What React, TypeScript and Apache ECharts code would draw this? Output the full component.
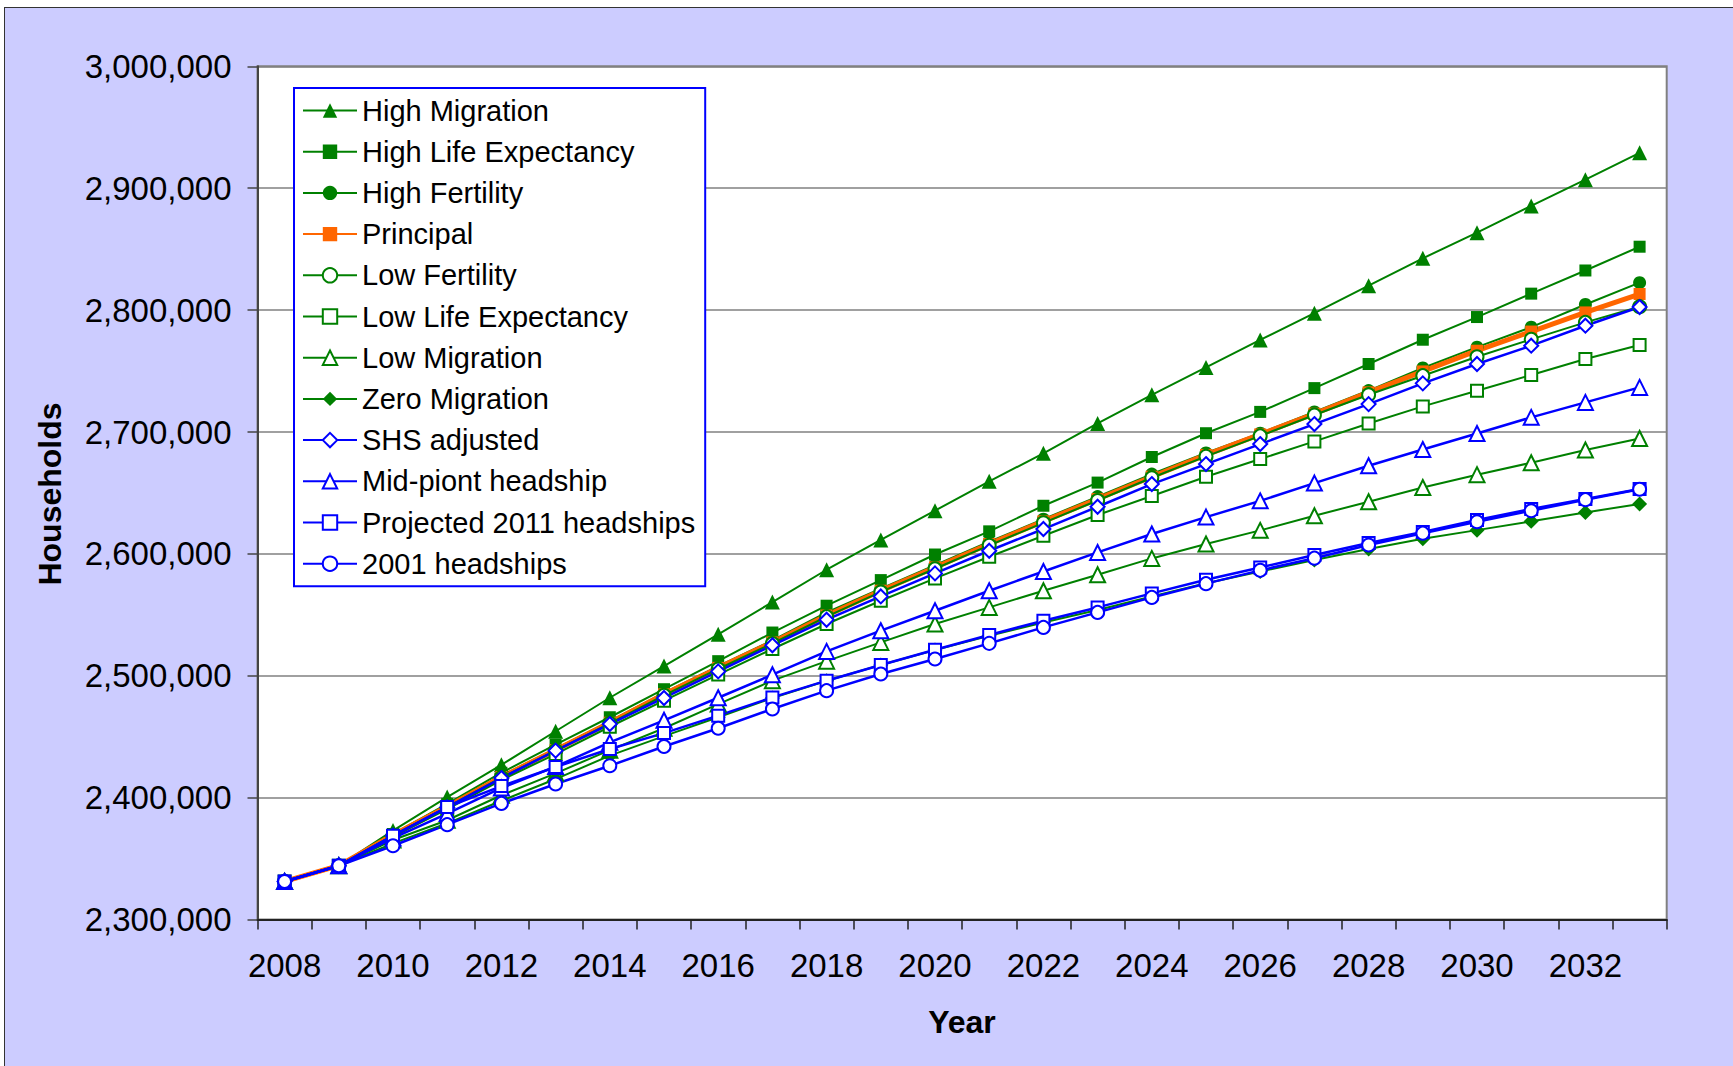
import React, { useEffect, useRef } from "react";
import * as echarts from "echarts";

const years = ["2008","2009","2010","2011","2012","2013","2014","2015","2016","2017","2018","2019","2020","2021","2022","2023","2024","2025","2026","2027","2028","2029","2030","2031","2032","2033"];

const highMigration = [2331300, 2344200, 2373000, 2400500, 2427000, 2454500, 2482000, 2508000, 2534000, 2560500, 2587000, 2611500, 2635500, 2659500, 2682500, 2707000, 2730500, 2753000, 2775500, 2797500, 2820000, 2842500, 2863500, 2885500, 2907000, 2929000];
const highLifeExpectancy = [2331300, 2344200, 2370200, 2395000, 2420500, 2443500, 2466000, 2489000, 2512000, 2535500, 2557500, 2578500, 2599500, 2618500, 2639500, 2658500, 2679500, 2699000, 2716500, 2736000, 2755800, 2775700, 2794300, 2813500, 2832500, 2852000];
const highFertility = [2331300, 2344200, 2370000, 2393800, 2418000, 2440000, 2462800, 2486000, 2508000, 2529000, 2552000, 2571500, 2590800, 2610000, 2628500, 2647000, 2665500, 2682800, 2699000, 2716500, 2734000, 2752500, 2769600, 2786000, 2804600, 2822500];
const principal = [2331300, 2344200, 2369400, 2392700, 2417000, 2439100, 2461500, 2484800, 2506500, 2527400, 2549500, 2569800, 2588900, 2608100, 2626700, 2645000, 2663300, 2681200, 2698000, 2715000, 2732500, 2749700, 2766700, 2782400, 2798100, 2813200];
const lowFertility = [2331300, 2344200, 2369000, 2392200, 2416500, 2438700, 2461000, 2484000, 2505600, 2526500, 2548500, 2568800, 2587800, 2607000, 2625500, 2643800, 2662500, 2680000, 2696800, 2713900, 2730600, 2746200, 2761700, 2776000, 2789900, 2802800];
const lowLifeExpectancy = [2331300, 2344200, 2368000, 2390700, 2414500, 2435800, 2458200, 2479600, 2501000, 2522000, 2542500, 2561600, 2579900, 2597700, 2614900, 2631900, 2647500, 2663300, 2677800, 2692300, 2707000, 2721000, 2733900, 2746700, 2759900, 2771300];
const lowMigration = [2331300, 2344200, 2365300, 2381500, 2402000, 2420000, 2439000, 2457000, 2476800, 2496000, 2512000, 2527400, 2542500, 2556100, 2569800, 2582900, 2596300, 2608100, 2619300, 2631300, 2642800, 2654500, 2665000, 2674800, 2685200, 2694700];
const zeroMigration = [2331300, 2344200, 2362500, 2379000, 2397500, 2415300, 2434500, 2450500, 2466000, 2481800, 2496000, 2508800, 2521200, 2532900, 2543800, 2554000, 2565100, 2576000, 2585600, 2595000, 2604000, 2612500, 2619500, 2626700, 2634000, 2641000];
const shsAdjusted = [2331300, 2344200, 2368800, 2392000, 2416100, 2438600, 2460400, 2481800, 2503600, 2525000, 2546000, 2565100, 2584000, 2602600, 2620400, 2638700, 2657300, 2673700, 2690100, 2706500, 2722900, 2739900, 2755800, 2770800, 2787200, 2802500];
const midPointHeadship = [2331300, 2344200, 2366900, 2387000, 2408000, 2425500, 2445400, 2463500, 2482000, 2500900, 2520000, 2537000, 2553400, 2569800, 2585600, 2601200, 2616300, 2630200, 2643500, 2658100, 2672300, 2685700, 2698800, 2712000, 2724300, 2736600];
const projected2011 = [2331300, 2344200, 2368800, 2392300, 2409500, 2425200, 2440000, 2453000, 2467300, 2482300, 2496000, 2508800, 2521400, 2533500, 2545200, 2556100, 2567600, 2578800, 2588900, 2599100, 2608900, 2618000, 2627800, 2636800, 2645000, 2653200];
const headships2001 = [2331300, 2344200, 2360600, 2377900, 2395300, 2411200, 2426200, 2442000, 2457000, 2472800, 2487800, 2501500, 2513800, 2526600, 2539700, 2552000, 2564300, 2575600, 2586500, 2596500, 2607300, 2617000, 2626400, 2635400, 2644500, 2653000];

const GREEN = "#008000";
const BLUE = "#0000FF";
const ORANGE = "#FF6600";
const FONT = "'Liberation Sans', Arial, sans-serif";

type Def = { name: string; data: number[]; color: string; symbol: string; size: number; filled: boolean; width: number };

const defs: Def[] = [
  { name: "High Migration", data: highMigration, color: GREEN, symbol: "triangle", size: 15, filled: true, width: 2 },
  { name: "High Life Expectancy", data: highLifeExpectancy, color: GREEN, symbol: "rect", size: 12, filled: true, width: 2 },
  { name: "High Fertility", data: highFertility, color: GREEN, symbol: "circle", size: 13, filled: true, width: 2 },
  { name: "Principal", data: principal, color: ORANGE, symbol: "rect", size: 12, filled: true, width: 5 },
  { name: "Low Fertility", data: lowFertility, color: GREEN, symbol: "circle", size: 13, filled: false, width: 2 },
  { name: "Low Life Expectancy", data: lowLifeExpectancy, color: GREEN, symbol: "rect", size: 12, filled: false, width: 2 },
  { name: "Low Migration", data: lowMigration, color: GREEN, symbol: "triangle", size: 15, filled: false, width: 2 },
  { name: "Zero Migration", data: zeroMigration, color: GREEN, symbol: "diamond", size: 15, filled: true, width: 2 },
  { name: "SHS adjusted", data: shsAdjusted, color: BLUE, symbol: "diamond", size: 14, filled: false, width: 2.5 },
  { name: "Mid-piont headship", data: midPointHeadship, color: BLUE, symbol: "triangle", size: 15, filled: false, width: 2.5 },
  { name: "Projected 2011 headships", data: projected2011, color: BLUE, symbol: "rect", size: 12, filled: false, width: 2.5 },
  { name: "2001 headships", data: headships2001, color: BLUE, symbol: "circle", size: 13, filled: false, width: 2.5 },
];

export default function App() {
  const ref = useRef<HTMLDivElement>(null);
  useEffect(() => {
    if (!ref.current) return;
    const chart = echarts.init(ref.current, undefined, { renderer: "svg" });
    const series = defs.map((d) => ({
      name: d.name,
      type: "line",
      data: d.data,
      symbol: d.symbol,
      symbolSize: d.size,
      showSymbol: true,
      lineStyle: { color: d.color, width: d.width },
      itemStyle: d.filled
        ? { color: d.color, borderColor: d.color, borderWidth: 0 }
        : { color: "#ffffff", borderColor: d.color, borderWidth: 2 },
      emphasis: { disabled: true },
    }));
    chart.setOption({
      animation: false,
      backgroundColor: "transparent",
      textStyle: { fontFamily: FONT },
      grid: {
        left: 257.5,
        right: 66.3,
        top: 66.3,
        bottom: 146.4,
        show: true,
        backgroundColor: "#ffffff",
        borderColor: "#808080",
        borderWidth: 2,
      },
      legend: {
        orient: "vertical",
        left: 294,
        top: 88,
        padding: [8, 10, 8, 8],
        itemGap: 12.2,
        itemWidth: 54,
        itemHeight: 18,
        backgroundColor: "#ffffff",
        borderColor: BLUE,
        borderWidth: 2,
        borderRadius: 0,
        textStyle: { fontSize: 29, lineHeight: 28, color: "#000", fontFamily: FONT },
        data: defs.map((d) => d.name),
      },
      xAxis: {
        type: "category",
        data: years,
        boundaryGap: true,
        axisLine: { show: true, lineStyle: { color: "#222", width: 2 } },
        axisTick: { show: true, interval: 0, length: 10, inside: false, lineStyle: { color: "#222", width: 1.5 } },
        axisLabel: { interval: 1, fontSize: 33, color: "#000", margin: 29, fontFamily: FONT },
        splitLine: { show: false },
      },
      yAxis: {
        type: "value",
        min: 2300000,
        max: 3000000,
        interval: 100000,
        axisLine: { show: true, lineStyle: { color: "#444", width: 2 } },
        axisTick: { show: true, length: 10, inside: false, lineStyle: { color: "#444", width: 1.5 } },
        axisLabel: {
          fontSize: 33,
          color: "#000",
          margin: 26,
          fontFamily: FONT,
          formatter: (v: number) => v.toLocaleString("en-US"),
        },
        splitLine: { show: true, lineStyle: { color: "#808080", width: 1.5 } },
      },
      graphic: [
        {
          type: "text",
          x: 50,
          y: 494,
          rotation: Math.PI / 2,
          style: {
            text: "Households",
            fontSize: 32,
            fontWeight: "bold",
            fontFamily: FONT,
            fill: "#000",
            align: "center",
            verticalAlign: "middle",
          },
        },
        {
          type: "text",
          x: 962,
          y: 1022,
          style: {
            text: "Year",
            fontSize: 32,
            fontWeight: "bold",
            fontFamily: FONT,
            fill: "#000",
            align: "center",
            verticalAlign: "middle",
          },
        },
      ],
      series,
    });
    return () => chart.dispose();
  }, []);

  return (
    <div style={{ position: "fixed", left: 0, top: 0, width: 1733, height: 1066, overflow: "hidden", background: "#ffffff" }}>
      <div style={{ position: "absolute", left: 4, top: 7, width: 1780, height: 1100, background: "#CCCCFF", border: "1.5px solid #333" }} />
      <div ref={ref} style={{ position: "absolute", left: 0, top: 0, width: 1733, height: 1066 }} />
    </div>
  );
}
